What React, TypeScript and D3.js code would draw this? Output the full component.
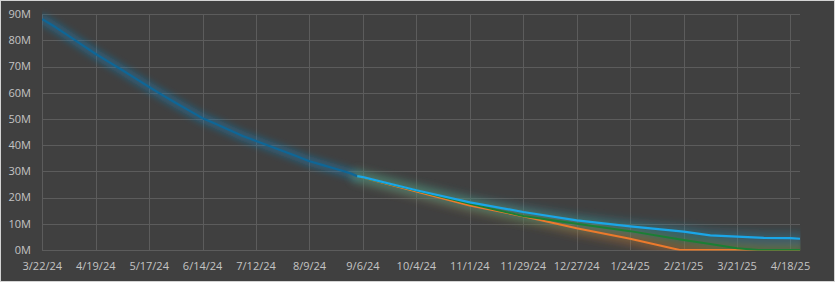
import React from "react";
import * as d3 from "d3";

const histDates = ["2024-03-22","2024-03-29","2024-04-05","2024-04-12","2024-04-19","2024-04-26","2024-05-03","2024-05-10","2024-05-17","2024-05-24","2024-05-31","2024-06-07","2024-06-14","2024-06-21","2024-06-28","2024-07-05","2024-07-12","2024-07-19","2024-07-26","2024-08-02","2024-08-09","2024-08-16","2024-08-23","2024-08-30","2024-09-03"];
const histValues = [88.1,85.0,81.6,78.2,74.8,71.7,68.6,65.4,62.2,59.1,56.1,53.2,50.3,48.1,45.8,43.5,41.6,39.7,37.8,35.9,33.9,32.4,30.9,29.4,28.2];

const upperDates = ["2024-09-03","2024-09-06","2024-10-04","2024-11-01","2024-11-29","2024-12-27","2025-01-24","2025-02-21","2025-03-07","2025-03-21","2025-04-04","2025-04-18","2025-04-23"];
const upperValues = [28.2,27.8,22.8,18.2,14.5,11.3,9.0,7.0,5.6,5.1,4.6,4.5,4.3];

const forecastDates = ["2024-09-03","2024-10-04","2024-11-01","2024-11-29","2024-12-27","2025-01-24","2025-02-21","2025-03-07","2025-03-21","2025-04-01","2025-04-23"];
const forecastValues = [28.2,22.7,17.6,13.0,10.0,7.2,3.8,2.3,0.65,0,0];

const lowerDates = ["2024-09-03","2024-10-04","2024-11-01","2024-11-29","2024-12-27","2025-01-24","2025-02-19","2025-04-23"];
const lowerValues = [28.2,22.3,17.0,12.9,8.3,4.3,0,0];

const tickDates = ["2024-03-22","2024-04-19","2024-05-17","2024-06-14","2024-07-12","2024-08-09","2024-09-06","2024-10-04","2024-11-01","2024-11-29","2024-12-27","2025-01-24","2025-02-21","2025-03-21","2025-04-18"];
const yTicks = [0,10,20,30,40,50,60,70,80,90];

const parse = (s: string) => d3.timeParse("%Y-%m-%d")(s) as Date;
const fmt = d3.timeFormat("%-m/%-d/%y");

export default function App() {
  const W = 835, H = 282;
  const x = d3.scaleTime().domain([parse("2024-03-22"), parse("2025-04-23")]).range([42.3, 800]);
  const y = d3.scaleLinear().domain([0, 90]).range([250, 14.2]);
  const line = d3.line<[Date, number]>().x(d => x(d[0])).y(d => y(d[1]));
  const mk = (ds: string[], vs: number[]) => line(ds.map((d, i) => [parse(d), vs[i]] as [Date, number])) as string;
  const hist = mk(histDates, histValues);
  const up = mk(upperDates, upperValues);
  const fc = mk(forecastDates, forecastValues);
  const lo = mk(lowerDates, lowerValues);
  const font = "'Open Sans', 'DejaVu Sans', sans-serif";
  const txt = "#c4c4c4";
  return (
    <svg width={W} height={H} style={{ position: "absolute", left: 0, top: 0 }}>
      <defs>
        <filter id="glow" x="-20%" y="-50%" width="140%" height="200%">
          <feGaussianBlur stdDeviation="3.5" />
        </filter>
        <filter id="glow2" x="-20%" y="-50%" width="140%" height="200%">
          <feGaussianBlur stdDeviation="4.5" />
        </filter>
        <clipPath id="clip">
          <rect x={42} y={0} width={758.5} height={250.5} />
        </clipPath>
      </defs>
      <rect x={0} y={0} width={W} height={H} fill="#404040" />
      <rect x={0.5} y={0.5} width={W - 1} height={H - 1} fill="none" stroke="#d4d4d4" strokeWidth={1} />
      {yTicks.map(t => (
        <line key={"h" + t} x1={42} x2={800} y1={Math.round(y(t)) + 0.5} y2={Math.round(y(t)) + 0.5} stroke="#5c5c5c" strokeWidth={1} />
      ))}
      {tickDates.map(t => (
        <line key={"v" + t} x1={Math.round(x(parse(t))) + 0.5} x2={Math.round(x(parse(t))) + 0.5} y1={14} y2={250.5} stroke="#5c5c5c" strokeWidth={1} />
      ))}
      {yTicks.map(t => (
        <text key={"yl" + t} x={31} y={y(t)} dy="0.35em" textAnchor="end" fill={txt} fontFamily={font} fontSize={11}>{t}M</text>
      ))}
      {tickDates.map(t => (
        <text key={"xl" + t} x={x(parse(t))} y={266} dy="0.35em" textAnchor="middle" fill={txt} fontFamily={font} fontSize={11}>{fmt(parse(t))}</text>
      ))}
      <g clipPath="url(#clip)">
        <g filter="url(#glow)" fill="none" strokeLinejoin="round" strokeLinecap="round">
          <path d={hist} stroke="#1c80b8" strokeWidth={9} opacity={0.5} />
        </g>
        <g filter="url(#glow2)" fill="none" strokeLinejoin="round" strokeLinecap="round">
          <path d={lo} stroke="#c8702c" strokeWidth={12} opacity={0.4} />
          <path d={fc} stroke="#3f8a4a" strokeWidth={12} opacity={0.45} />
          <path d={up} stroke="#2a8fb8" strokeWidth={11} opacity={0.35} />
        </g>
        <path d={hist} fill="none" stroke="#0f6696" strokeWidth={2.2} strokeLinejoin="round" />
        <path d={lo} fill="none" stroke="#ec7a2c" strokeWidth={2} strokeLinejoin="round" />
        <path d={fc} fill="none" stroke="#1a7f34" strokeWidth={2} strokeLinejoin="round" />
        <path d={up} fill="none" stroke="#1aa6e8" strokeWidth={2.2} strokeLinejoin="round" />
      </g>
    </svg>
  );
}
